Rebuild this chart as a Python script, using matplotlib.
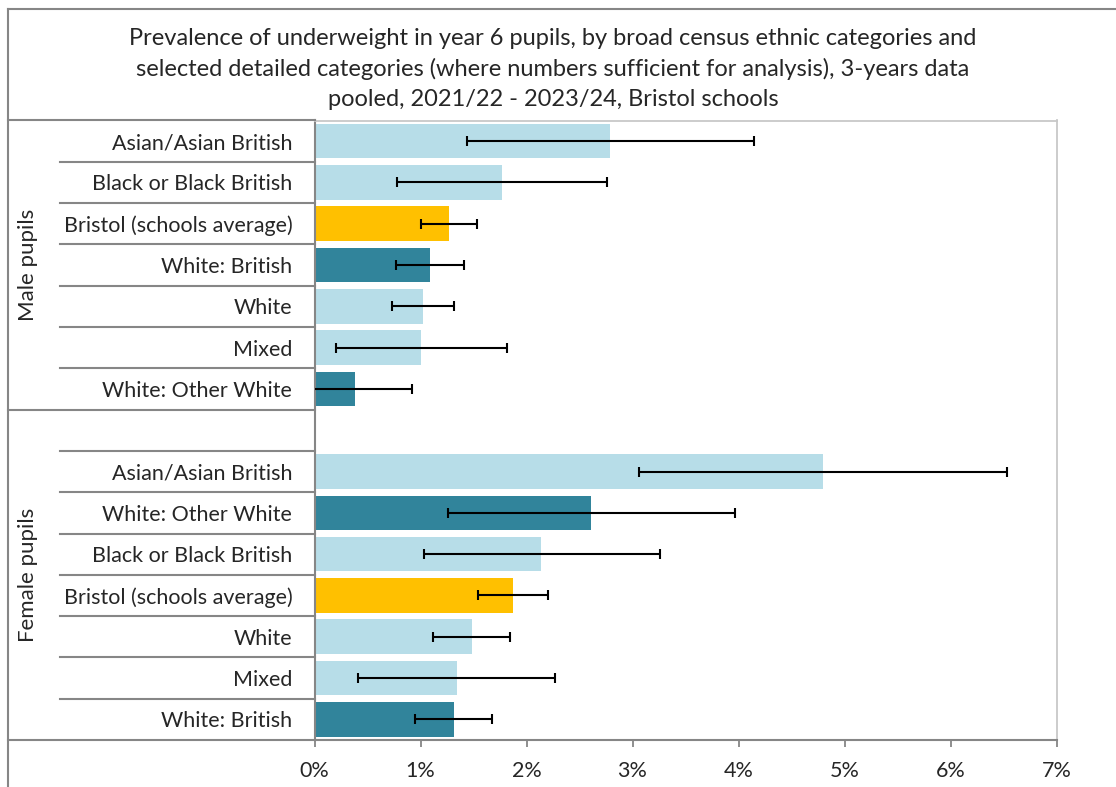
import matplotlib
matplotlib.use("Agg")
import matplotlib.pyplot as plt
from matplotlib.lines import Line2D
import matplotlib.transforms as mtransforms

# ---------------- data ----------------
title = ("Prevalence of underweight in year 6 pupils, by broad census ethnic categories and\n"
         "selected detailed categories (where numbers sufficient for analysis), 3-years data\n"
         "pooled, 2021/22 - 2023/24, Bristol schools")

groups = ["Male pupils", "Female pupils"]

male_categories = ["Asian/Asian British", "Black or Black British", "Bristol (schools average)",
                   "White: British", "White", "Mixed", "White: Other White"]
male_values = [2.79, 1.765, 1.265, 1.09, 1.025, 1.005, 0.38]
male_lower = [1.44, 0.775, 1.00, 0.765, 0.73, 0.20, -0.16]
male_upper = [4.15, 2.755, 1.535, 1.41, 1.315, 1.815, 0.92]

female_categories = ["Asian/Asian British", "White: Other White", "Black or Black British",
                     "Bristol (schools average)", "White", "Mixed", "White: British"]
female_values = [4.80, 2.61, 2.14, 1.87, 1.485, 1.34, 1.315]
female_lower = [3.06, 1.255, 1.035, 1.545, 1.12, 0.413, 0.948]
female_upper = [6.535, 3.965, 3.255, 2.20, 1.843, 2.267, 1.67]

x_ticks = [0, 1, 2, 3, 4, 5, 6, 7]
x_ticklabels = ["0%", "1%", "2%", "3%", "4%", "5%", "6%", "7%"]

detailed = {"White: British", "White: Other White"}
average = {"Bristol (schools average)"}
c_broad = "#B7DDE8"
c_detail = "#31849B"
c_avg = "#FFC000"

def colour(cat):
    if cat in average:
        return c_avg
    if cat in detailed:
        return c_detail
    return c_broad

# ---------------- figure ----------------
W, H = 1116, 787
fig = plt.figure(figsize=(W / 100, H / 100), dpi=100)
plt.rcParams['font.family'] = ['Lato', 'DejaVu Sans']
txt = "#262626"

left, right, top, bottom = 314.5, 1056.5, 120.5, 740.0
ax = fig.add_axes([left / W, 1 - bottom / H, (right - left) / W, (bottom - top) / H])

cats = male_categories + [""] + female_categories
vals = male_values + [None] + female_values
lows = male_lower + [None] + female_lower
ups = male_upper + [None] + female_upper

ypos, bv, bc, el, eu, labels = [], [], [], [], [], []
for i, (c, v, lo, up) in enumerate(zip(cats, vals, lows, ups)):
    if v is None:
        continue
    ypos.append(i)
    bv.append(v)
    bc.append(colour(c))
    el.append(v - lo)
    eu.append(up - v)
    labels.append(c)

ax.barh(ypos, bv, height=0.84, color=bc, zorder=2)
ax.errorbar(bv, ypos, xerr=[el, eu], fmt="none", ecolor="black",
            elinewidth=1.5, capsize=3.4, capthick=1.5, zorder=3)

n = len(cats)
ax.set_ylim(n - 0.5, -0.5)
ax.set_xlim(0, 7)
ax.set_xticks(x_ticks)
ax.set_xticklabels(x_ticklabels, fontsize=15.5, color=txt)
ax.set_yticks(ypos)
ax.set_yticklabels(labels, fontsize=15.5, color=txt)
ax.tick_params(axis="y", length=0, pad=16)
ax.tick_params(axis="x", length=5, width=1.3, color="#868686", pad=10, direction="out")

for s in ["top", "right"]:
    ax.spines[s].set_color("#C8C8C8")
    ax.spines[s].set_linewidth(1.3)
for s in ["left", "bottom"]:
    ax.spines[s].set_color("#868686")
    ax.spines[s].set_linewidth(1.5)

# ---------------- category table lines ----------------
btr = mtransforms.blended_transform_factory(fig.transFigure, ax.transData)
gray = "#868686"
x_outer = 8 / W
x_inner = 60 / W
x_axis = left / W

def hline(y, x0):
    fig.add_artist(Line2D([x0, x_axis], [y, y], transform=btr, color=gray, lw=1.5, clip_on=False))

n_male = len(male_categories)
hline(-0.5, x_outer)
for k in range(1, n_male):
    hline(k - 0.5, x_inner)
hline(n_male - 0.5, x_outer)
for k in range(n_male + 1, n):
    hline(k - 0.5, x_inner)
hline(n - 0.5, x_outer)

# group labels
fig.add_artist(plt.Text(28 / W, (n_male - 1) / 2, groups[0], transform=btr, rotation=90,
                        ha="center", va="center", fontsize=16, color=txt))
fig.add_artist(plt.Text(28 / W, (n_male + n - 1) / 2, groups[1], transform=btr, rotation=90,
                        ha="center", va="center", fontsize=16, color=txt))

# outer frame
fig.add_artist(Line2D([8 / W, 8 / W], [0, 1 - 9 / H], transform=fig.transFigure, color=gray, lw=1.5))
fig.add_artist(Line2D([8 / W, 1], [1 - 9 / H, 1 - 9 / H], transform=fig.transFigure, color=gray, lw=1.5))

# title
fig.text(553 / W, 1 - 69 / H, title, ha="center", va="center", fontsize=17,
         color=txt, linespacing=1.52)

fig.savefig("out.png", dpi=100)
